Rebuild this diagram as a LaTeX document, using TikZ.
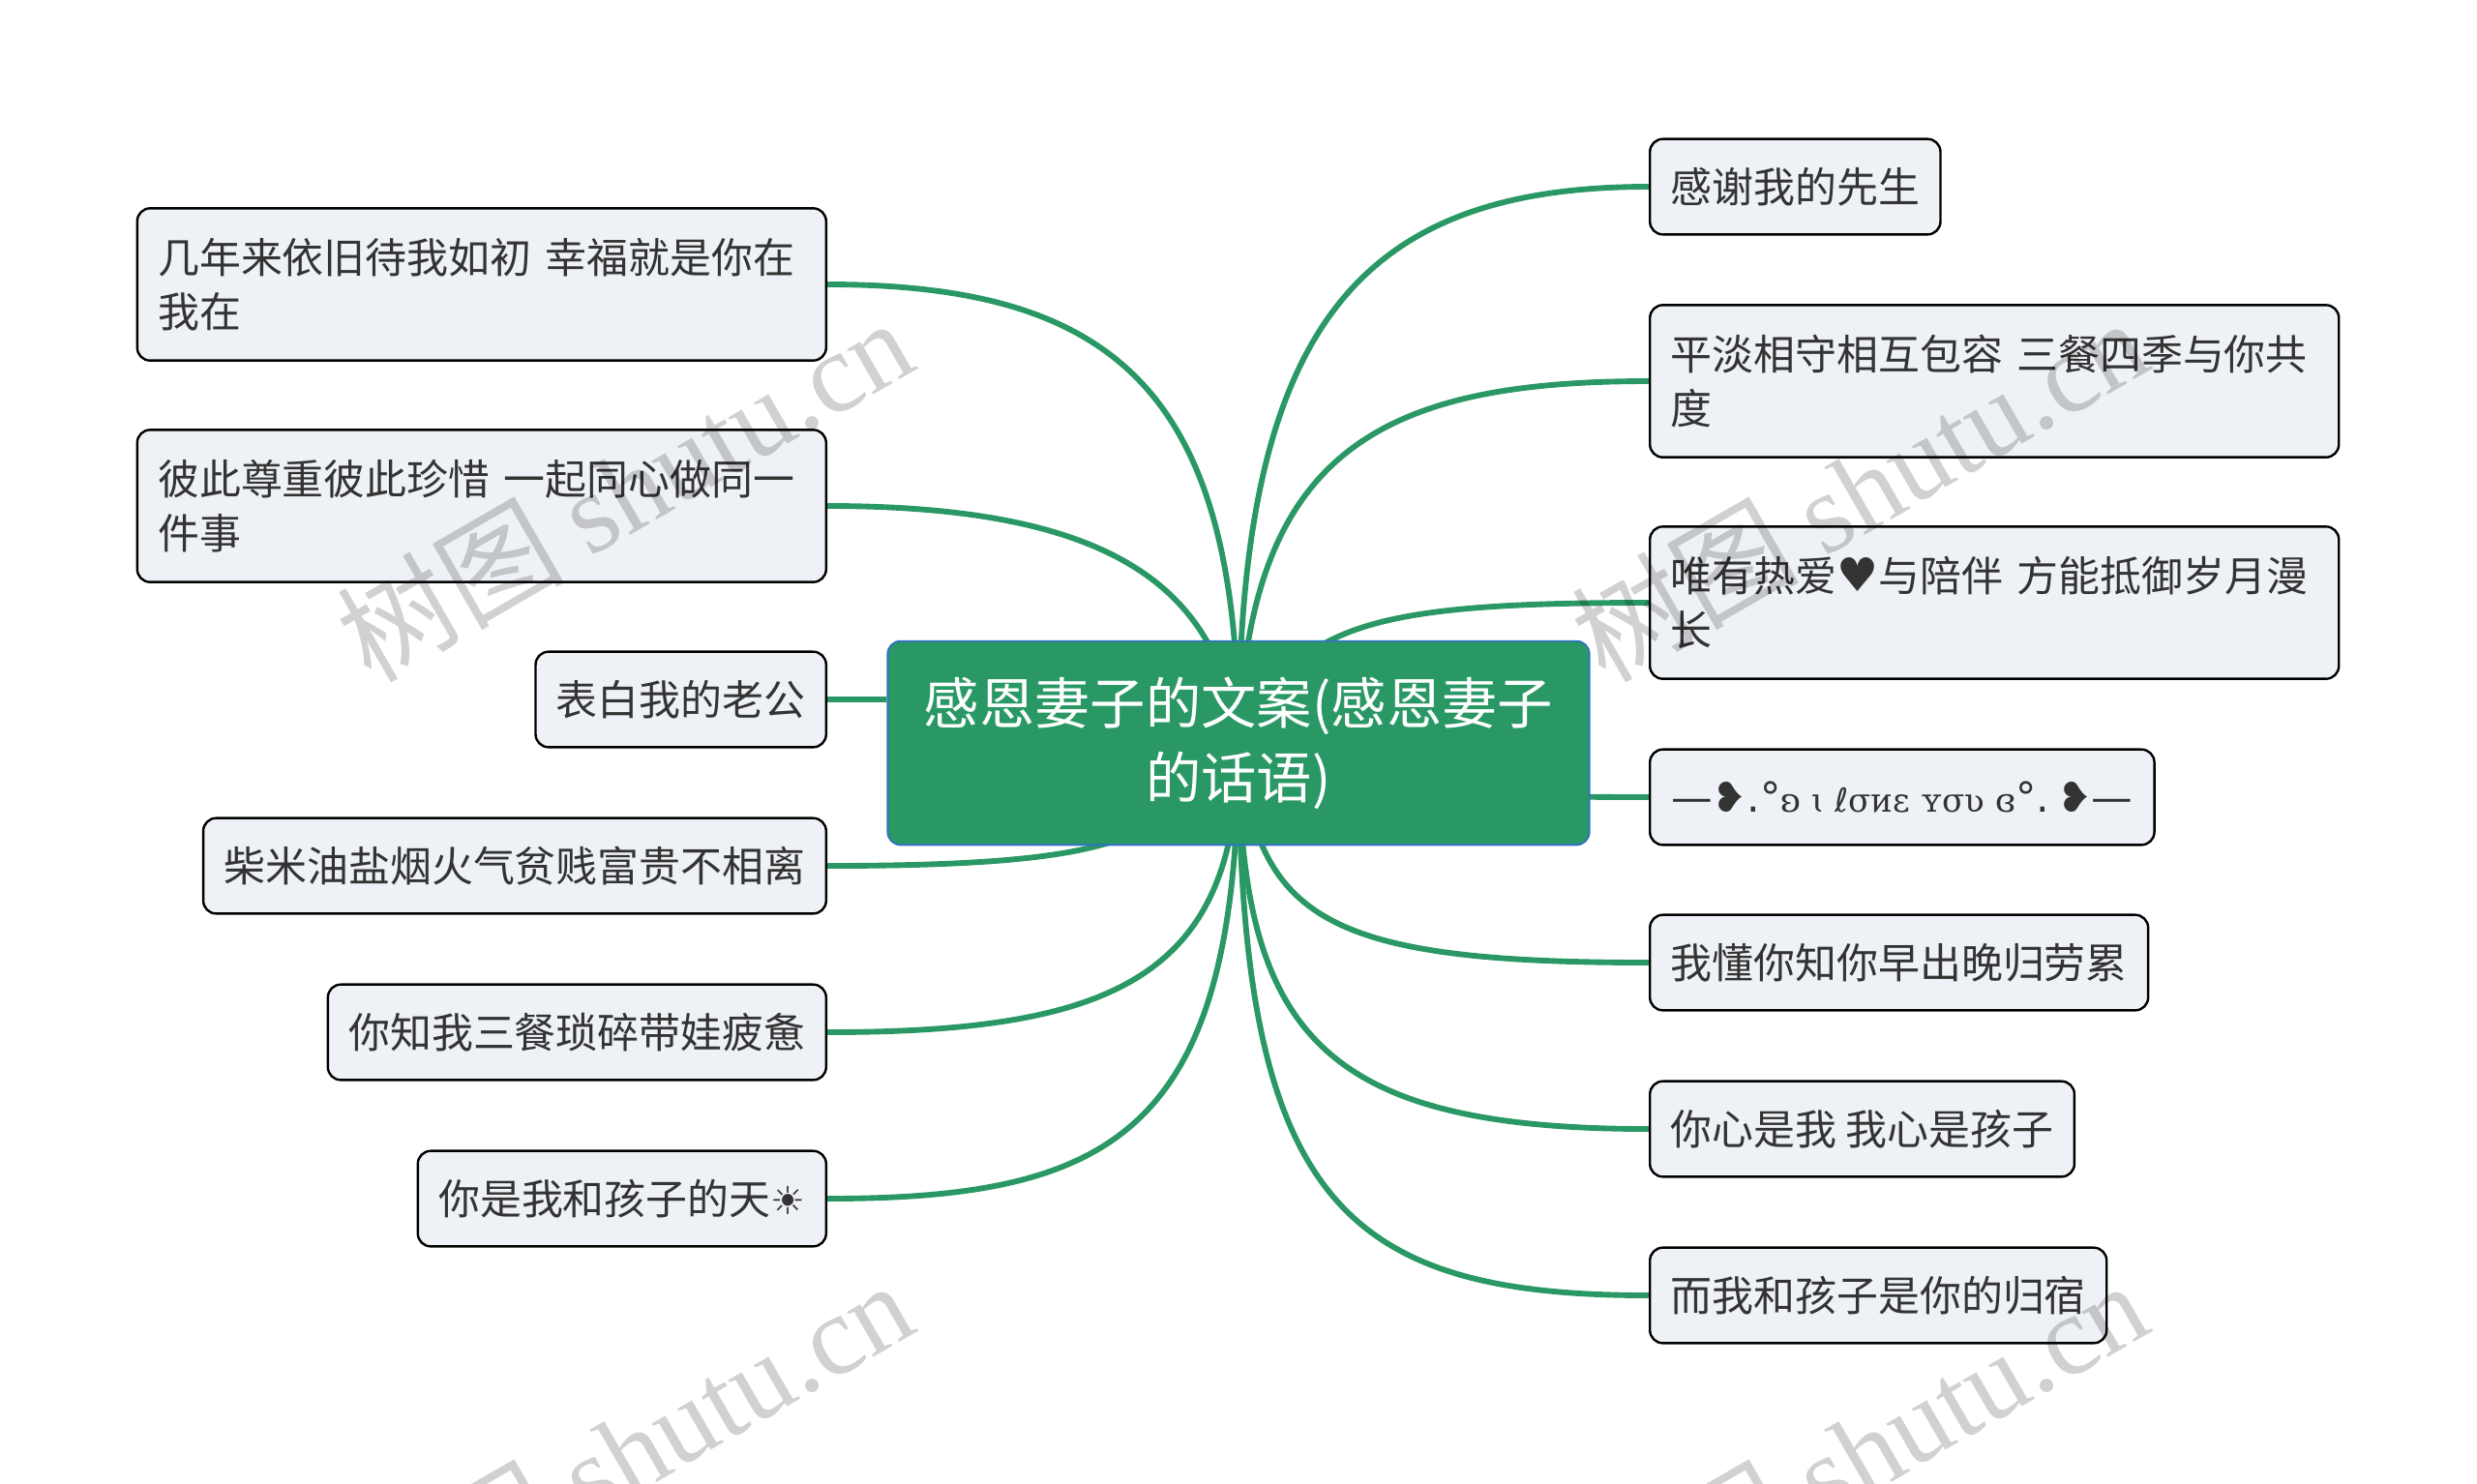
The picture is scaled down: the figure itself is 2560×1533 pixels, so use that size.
\documentclass[tikz,border=0pt]{standalone}
\usepackage{fontspec}
\setmainfont{Noto Sans CJK SC}
\newfontfamily\symfont{DejaVu Sans}
\newfontfamily\latinfont{DejaVu Serif}
\newfontfamily\markfont{Liberation Serif}
\usetikzlibrary{backgrounds}
\definecolor{linkgreen}{HTML}{2A9865}
\definecolor{rootblue}{HTML}{2F72C4}
\definecolor{leaffill}{HTML}{EEF1F5}
\definecolor{inktext}{HTML}{333333}

\tikzset{
    leaf/.style={draw=black, line width=0.9pt, fill=leaffill, rounded corners=5pt, text=inktext,
        align=left, inner xsep=8pt, inner ysep=0pt, minimum height=37pt,
        font=\fontsize{16.1}{21}\selectfont},
    leaftwo/.style={leaf, minimum height=59pt, text width=251pt},
    root/.style={draw=rootblue, line width=0.7pt, fill=linkgreen, rounded corners=5pt, text=white,
        align=center, inner sep=0pt, minimum width=272pt, minimum height=79pt,
        font=\fontsize{21.5}{29}\selectfont},
    link/.style={draw=linkgreen, line width=2.2pt},
    wmark/.style={text=black, opacity=0.18, rotate=30, anchor=center,
        font=\fontsize{44}{44}\selectfont}
}

\begin{document}
\begin{tikzpicture}[x=0.375pt, y=-0.375pt]
    \useasboundingbox (0,0) rectangle (2560,1533);

    % Centro
    \node[root] (main) at (1280,768) {感恩妻子的文案(感恩妻子\\的话语)};

    % Destra
    \node[leaf, anchor=west] (r1) at (1704,193) {感谢我的先生};
    \node[leaftwo, anchor=west] (r2) at (1704,394) {平淡相守相互包容 三餐四季与你共\\度};
    \node[leaftwo, anchor=west] (r3) at (1704,623) {唯有热爱{\symfont\fontsize{18}{21}\selectfont ♥}与陪伴 方能抵御岁月漫\\长};
    \node[leaf, anchor=west, minimum width=195.5pt] (r4) at (1704,824) {{\symfont\fontsize{16}{21}\selectfont —❥.°}{\latinfont\fontsize{12.8}{21}\selectfont ʚ ɩ }{\symfont\fontsize{12.8}{21}\selectfont ℓ}{\latinfont\fontsize{12.8}{21}\selectfont σᴎɛ ʏσʋ ɞ}{\symfont\fontsize{16}{21}\selectfont °.\hspace{3pt}❥—}};
    \node[leaf, anchor=west] (r5) at (1704,995) {我懂你知你早出晚归劳累};
    \node[leaf, anchor=west] (r6) at (1704,1167) {你心是我 我心是孩子};
    \node[leaf, anchor=west] (r7) at (1704,1339) {而我和孩子是你的归宿};

    % Sinistra
    \node[leaftwo, anchor=east] (l1) at (855,294) {几年来依旧待我如初 幸福就是你在\\我在};
    \node[leaftwo, anchor=east] (l2) at (855,523) {彼此尊重彼此珍惜 一起同心做同一\\件事};
    \node[leaf, anchor=east] (l3) at (855,723) {表白我的老公};
    \node[leaf, anchor=east] (l4) at (855,895) {柴米油盐烟火气贫贱富贵不相离};
    \node[leaf, anchor=east] (l5) at (855,1067) {你知我三餐琐碎带娃疲惫};
    \node[leaf, anchor=east] (l6) at (855,1239) {你是我和孩子的天{\symfont\fontsize{15}{21}\selectfont ☀}};

    % Rami
    \begin{pgfonlayer}{background}
        \draw[link] (main.center) .. controls +(0,-430) and +(-300,0) .. (r1.west);
        \draw[link] (main.center) .. controls +(10,-300) and +(-280,0) .. (r2.west);
        \draw[link] (main.center) .. controls +(60,-120) and +(-300,0) .. (r3.west);
        \draw[link] (main.center) .. controls +(150,50) and +(-200,0) .. (r4.west);
        \draw[link] (main.center) .. controls +(20,180) and +(-340,0) .. (r5.west);
        \draw[link] (main.center) .. controls +(0,300) and +(-340,0) .. (r6.west);
        \draw[link] (main.center) .. controls +(0,470) and +(-320,0) .. (r7.west);
        \draw[link] (main.center) .. controls +(0,-360) and +(300,0) .. (l1.east);
        \draw[link] (main.center) .. controls +(-20,-170) and +(280,0) .. (l2.east);
        \draw[link] (l3.east) -- (l3.east -| main.west);
        \draw[link] (main.center) .. controls +(-85,90) and +(340,0) .. (l4.east);
        \draw[link] (main.center) .. controls +(0,240) and +(300,0) .. (l5.east);
        \draw[link] (main.center) .. controls +(0,400) and +(300,0) .. (l6.east);
    \end{pgfonlayer}

    % Filigrana
    \node[wmark] (w1) at (645,505) {树图 {\markfont shutu.cn}};
    \node[wmark] (w2) at (1921,505) {树图 {\markfont shutu.cn}};
    \node[wmark] (w3) at (645,1500) {树图 {\markfont shutu.cn}};
    \node[wmark] (w4) at (1921,1500) {树图 {\markfont shutu.cn}};
\end{tikzpicture}
\end{document}
